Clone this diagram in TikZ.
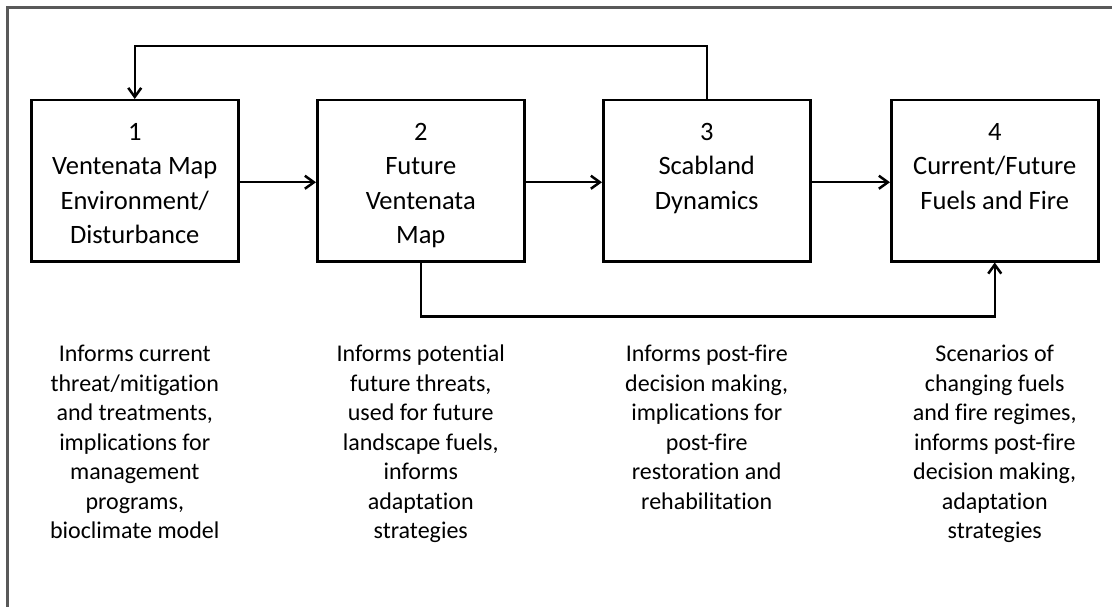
\documentclass[tikz,border=0pt]{standalone}
\usepackage{fontspec}
\setmainfont{Carlito}[Ligatures=CommonOff]
\usetikzlibrary{arrows.meta}
\definecolor{framegray}{HTML}{595959}
\begin{document}
\begin{tikzpicture}[x=1pt,y=-1pt,
  box/.style={draw, line width=2.5pt, minimum width=207pt, minimum height=161pt, inner sep=0pt, anchor=north west},
  boxtext/.style={anchor=north, align=center, inner sep=0pt, font=\fontsize{26.5}{34.5}\selectfont},
  note/.style={anchor=north, align=center, inner sep=0pt, font=\fontsize{24}{29.5}\selectfont},
  conn/.style={line width=2.5pt, -{Straight Barb[length=9pt,width=13pt]}}]
\useasboundingbox (0,0) rectangle (1112,607);
\clip (0,0) rectangle (1112,607);
\fill[white] (0,0) rectangle (1112,607);
\draw[framegray, line width=2.5pt] (7.5,7.5) rectangle (1140,640);
% boxes
\node[box] (b1) at (30,99) {};
\node[box] (b2) at (316,99) {};
\node[box] (b3) at (602,99) {};
\node[box] (b4) at (890,99) {};
% box texts
\node[boxtext] (t1) at ([yshift=-24pt]b1.north) {1\\Ventenata Map\\Environment/\\Disturbance};
\node[boxtext] (t2) at ([yshift=-24pt]b2.north) {2\\Future\\Ventenata\\Map};
\node[boxtext] (t3) at ([yshift=-24pt]b3.north) {3\\Scabland\\Dynamics};
\node[boxtext] (t4) at ([yshift=-24pt]b4.north) {4\\Current/Future\\Fuels and Fire};
% notes
\node[note] (n1) at (b1.center |- 0,345) {Informs current\\threat/mitigation\\and treatments,\\implications for\\management\\programs,\\bioclimate model};
\node[note] (n2) at (b2.center |- 0,345) {Informs potential\\future threats,\\used for future\\landscape fuels,\\informs\\adaptation\\strategies};
\node[note] (n3) at (b3.center |- 0,345) {Informs post-fire\\decision making,\\implications for\\post-fire\\restoration and\\rehabilitation};
\node[note] (n4) at (b4.center |- 0,345) {Scenarios of\\changing fuels\\and fire regimes,\\informs post-fire\\decision making,\\adaptation\\strategies};
% connectors
\draw[conn] ([yshift=-1.5pt]b1.east) -- ([yshift=-1.5pt]b2.west);
\draw[conn] ([yshift=-1.5pt]b2.east) -- ([yshift=-1.5pt]b3.west);
\draw[conn] ([yshift=-1.5pt]b3.east) -- ([yshift=-1.5pt]b4.west);
\draw[conn] (b3.north) -- ++(0,-53) -| (b1.north);
\draw[conn] (b2.south) -- ++(0,54) -| (b4.south);
\end{tikzpicture}
\end{document}
